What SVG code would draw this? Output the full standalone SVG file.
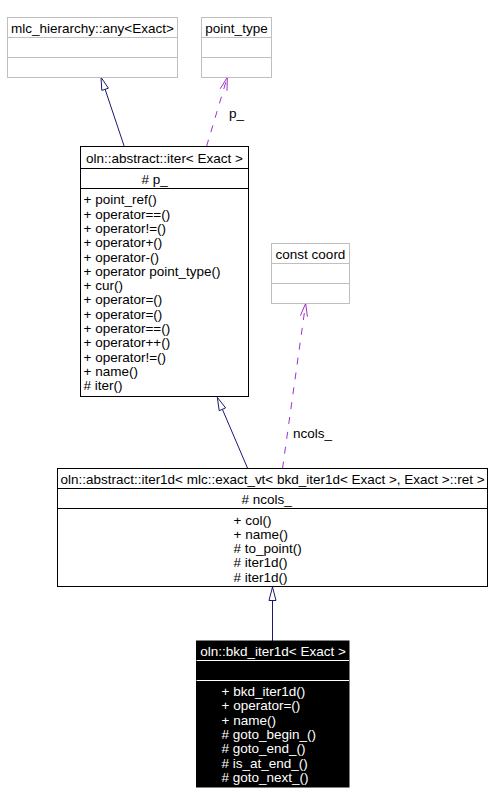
<svg xmlns="http://www.w3.org/2000/svg" width="492" height="804" viewBox="0 0 492 804">
<style>
text{font-family:"Liberation Sans",Arial,sans-serif;font-size:13.5px;fill:#000}
.g{fill:#fff;stroke:#bfbfbf;stroke-width:1}
.b{fill:#fff;stroke:#000;stroke-width:1}
.k{fill:#000;stroke:#000;stroke-width:1}
.gl{stroke:#bfbfbf;stroke-width:1}
.bl{stroke:#000;stroke-width:1}
.wl{stroke:#fff;stroke-width:1}
.c{text-anchor:middle}
.w{fill:#fff}
.inh{stroke:#191970;stroke-width:1;fill:none}
.tri{stroke:#191970;stroke-width:1;fill:#fff}
.use{stroke:#9a32cd;stroke-width:1;fill:none;stroke-dasharray:7,8}
.vee{stroke:#9a32cd;stroke-width:1;fill:none}
</style>
<rect width="492" height="804" fill="#fff"/>
<g id="connectors">
<line class="inh" x1="124.3" y1="146.5" x2="105.1" y2="89.3"/>
<polygon class="tri" points="101,77.3 108.4,88.2 101.8,90.4"/>
<line class="use" x1="206.5" y1="146.5" x2="227.3" y2="77.3"/>
<polyline class="vee" points="227,90.8 227.3,77.3 220.2,88.8"/>
<text x="229" y="117.5">p_</text>
<line class="inh" x1="247.7" y1="468.5" x2="222.4" y2="409.3"/>
<polygon class="tri" points="217.3,397.3 225.6,407.9 219.2,410.7"/>
<line class="use" x1="282.5" y1="468.5" x2="305.7" y2="303.3"/>
<polyline class="vee" points="307.4,316.7 305.7,303.3 300.4,315.7"/>
<text x="293" y="438">ncols_</text>
<line class="inh" x1="272.5" y1="641" x2="272.5" y2="600.5"/>
<polygon class="tri" points="272.5,587 269,600.5 276,600.5"/>
</g>
<g id="node-any">
<rect class="g" x="7.5" y="17.5" width="170" height="60"/>
<line class="gl" x1="7.5" y1="37.5" x2="177.5" y2="37.5"/>
<line class="gl" x1="7.5" y1="57.5" x2="177.5" y2="57.5"/>
<text class="c" x="92.5" y="32.8">mlc_hierarchy::any&lt;Exact&gt;</text>
</g>
<g id="node-point_type">
<rect class="g" x="201.5" y="17.5" width="70" height="60"/>
<line class="gl" x1="201.5" y1="37.5" x2="271.5" y2="37.5"/>
<line class="gl" x1="201.5" y1="57.5" x2="271.5" y2="57.5"/>
<text class="c" x="236.5" y="32.8">point_type</text>
</g>
<g id="node-iter">
<rect class="b" x="80.5" y="146.5" width="168" height="250"/>
<line class="bl" x1="80.5" y1="168.5" x2="248.5" y2="168.5"/>
<line class="bl" x1="80.5" y1="188.5" x2="248.5" y2="188.5"/>
<text class="c" x="164.5" y="162.8">oln::abstract::iter&lt; Exact &gt;</text>
<text x="141.5" y="184.3">#  p_</text>
<text x="83.5" y="204.3">+ point_ref()</text>
<text x="83.5" y="218.6">+ operator==()</text>
<text x="83.5" y="232.9">+ operator!=()</text>
<text x="83.5" y="247.2">+ operator+()</text>
<text x="83.5" y="261.5">+ operator-()</text>
<text x="83.5" y="275.8">+ operator point_type()</text>
<text x="83.5" y="290.1">+ cur()</text>
<text x="83.5" y="304.4">+ operator=()</text>
<text x="83.5" y="318.7">+ operator=()</text>
<text x="83.5" y="333">+ operator==()</text>
<text x="83.5" y="347.3">+ operator++()</text>
<text x="83.5" y="361.6">+ operator!=()</text>
<text x="83.5" y="375.9">+ name()</text>
<text x="83.5" y="390.2"># iter()</text>
</g>
<g id="node-const_coord">
<rect class="g" x="271.5" y="243.5" width="78" height="60"/>
<line class="gl" x1="271.5" y1="263.5" x2="349.5" y2="263.5"/>
<line class="gl" x1="271.5" y1="283.5" x2="349.5" y2="283.5"/>
<text class="c" x="310.5" y="258.8">const coord</text>
</g>
<g id="node-iter1d">
<rect class="b" x="57.5" y="468.5" width="430" height="118"/>
<line class="bl" x1="57.5" y1="488.5" x2="487.5" y2="488.5"/>
<line class="bl" x1="57.5" y1="508.5" x2="487.5" y2="508.5"/>
<text class="c" x="272.5" y="483.8" textLength="424" lengthAdjust="spacingAndGlyphs">oln::abstract::iter1d&lt; mlc::exact_vt&lt; bkd_iter1d&lt; Exact &gt;, Exact &gt;::ret &gt;</text>
<text x="241.5" y="504.3">#  ncols_</text>
<text x="233.5" y="524.8">+ col()</text>
<text x="233.5" y="539">+ name()</text>
<text x="233.5" y="553.2"># to_point()</text>
<text x="233.5" y="567.4"># iter1d()</text>
<text x="233.5" y="581.6"># iter1d()</text>
</g>
<g id="node-bkd_iter1d">
<rect class="k" x="196.5" y="641" width="152.5" height="146"/>
<line class="wl" x1="196.5" y1="660.5" x2="349" y2="660.5"/>
<line class="wl" x1="196.5" y1="680.5" x2="349" y2="680.5"/>
<text class="c w" x="273" y="655.8">oln::bkd_iter1d&lt; Exact &gt;</text>
<text class="w" x="221.5" y="695.8">+ bkd_iter1d()</text>
<text class="w" x="221.5" y="710.2">+ operator=()</text>
<text class="w" x="221.5" y="724.6">+ name()</text>
<text class="w" x="221.5" y="739"># goto_begin_()</text>
<text class="w" x="221.5" y="753.4"># goto_end_()</text>
<text class="w" x="221.5" y="767.8"># is_at_end_()</text>
<text class="w" x="221.5" y="782.2"># goto_next_()</text>
</g>
</svg>
